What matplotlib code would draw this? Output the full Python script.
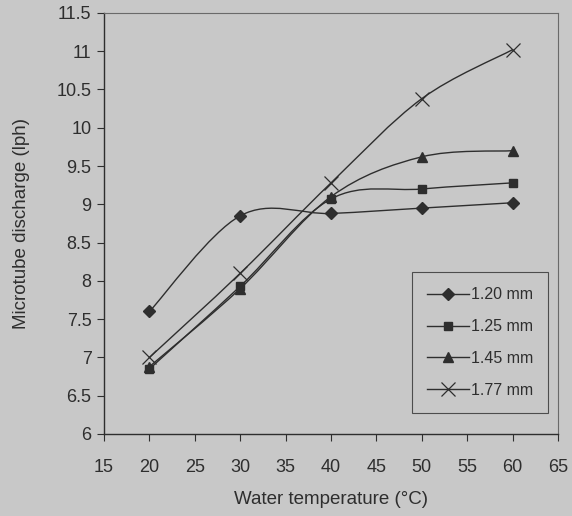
import matplotlib.pyplot as plt
import numpy as np
from matplotlib.path import Path
from matplotlib.patches import PathPatch
from matplotlib.lines import Line2D
from matplotlib.ticker import FuncFormatter

plt.rcParams['font.family'] = ['Liberation Sans', 'DejaVu Sans']

temps = [20, 30, 40, 50, 60]
d120 = [7.6, 8.85, 8.88, 8.95, 9.02]
d125 = [6.85, 7.93, 9.07, 9.2, 9.28]
d145 = [6.88, 7.9, 9.1, 9.62, 9.7]
d177 = [7.0, 8.1, 9.28, 10.38, 11.02]
labels = ["1.20 mm", "1.25 mm", "1.45 mm", "1.77 mm"]

bg = "#c8c8c8"
ink = "#2e2e2e"


def smooth_path(x, y):
    # excel style smoothed line: bezier segments with catmull-rom tangents
    pts = np.column_stack([x, y]).astype(float)
    n = len(pts)
    verts = [pts[0]]
    codes = [Path.MOVETO]
    for i in range(n - 1):
        p0 = pts[i - 1] if i > 0 else pts[i]
        p1 = pts[i]
        p2 = pts[i + 1]
        p3 = pts[i + 2] if i + 2 < n else pts[i + 1]
        c1 = p1 + (p2 - p0) / 6.0
        c2 = p2 - (p3 - p1) / 6.0
        verts += [c1, c2, p2]
        codes += [Path.CURVE4] * 3
    return Path(verts, codes)


fig = plt.figure(figsize=(5.72, 5.16), dpi=100, facecolor=bg)
ax = fig.add_axes([0.182, 0.159, 0.7935, 0.816], facecolor=bg)

series = [
    (d120, "D", 6, 1.0),
    (d125, "s", 6, 1.0),
    (d145, "^", 7, 1.0),
    (d177, "x", 10, 0.9),
]
handles = []
for (vals, mk, ms, mew), lab in zip(series, labels):
    ax.add_patch(PathPatch(smooth_path(temps, vals), facecolor="none",
                           edgecolor=ink, lw=1.0, zorder=2))
    ax.plot(temps, vals, ls="none", marker=mk, ms=ms, color=ink,
            mec=ink, mew=mew, zorder=3)
    handles.append(Line2D([], [], color=ink, lw=1.0, marker=mk, ms=ms,
                          mew=mew, label=lab))

ax.set_xlim(15, 65)
ax.set_ylim(6, 11.5)
ax.set_xticks(range(15, 70, 5))
ax.set_yticks(np.arange(6, 11.51, 0.5))
ax.yaxis.set_major_formatter(FuncFormatter(lambda v, p: "%g" % v))

for side in ["top", "right"]:
    ax.spines[side].set_linestyle((0, (1, 1)))
    ax.spines[side].set_color("#6a6a6a")
    ax.spines[side].set_linewidth(0.8)
for side in ["left", "bottom"]:
    ax.spines[side].set_color(ink)
    ax.spines[side].set_linewidth(1.0)

ax.tick_params(colors=ink, labelsize=13, length=5, width=0.8)
ax.tick_params(axis="x", pad=13)
ax.tick_params(axis="y", pad=4)
ax.set_xlabel("Water temperature (\u00b0C)", fontsize=13.5, color=ink, labelpad=11)
ax.set_ylabel("Microtube discharge (lph)", fontsize=13.5, color=ink, labelpad=19)

leg = ax.legend(handles=handles, loc="lower right", bbox_to_anchor=(0.978, 0.05),
                fontsize=11.5, frameon=True, fancybox=False, handlelength=2.6,
                handletextpad=0.1, labelspacing=1.05, borderpad=0.95,
                borderaxespad=0)
leg.get_frame().set_facecolor(bg)
leg.get_frame().set_edgecolor(ink)
leg.get_frame().set_linewidth(0.8)
for t in leg.get_texts():
    t.set_color(ink)

fig.savefig("out.png", dpi=100, facecolor=bg)
